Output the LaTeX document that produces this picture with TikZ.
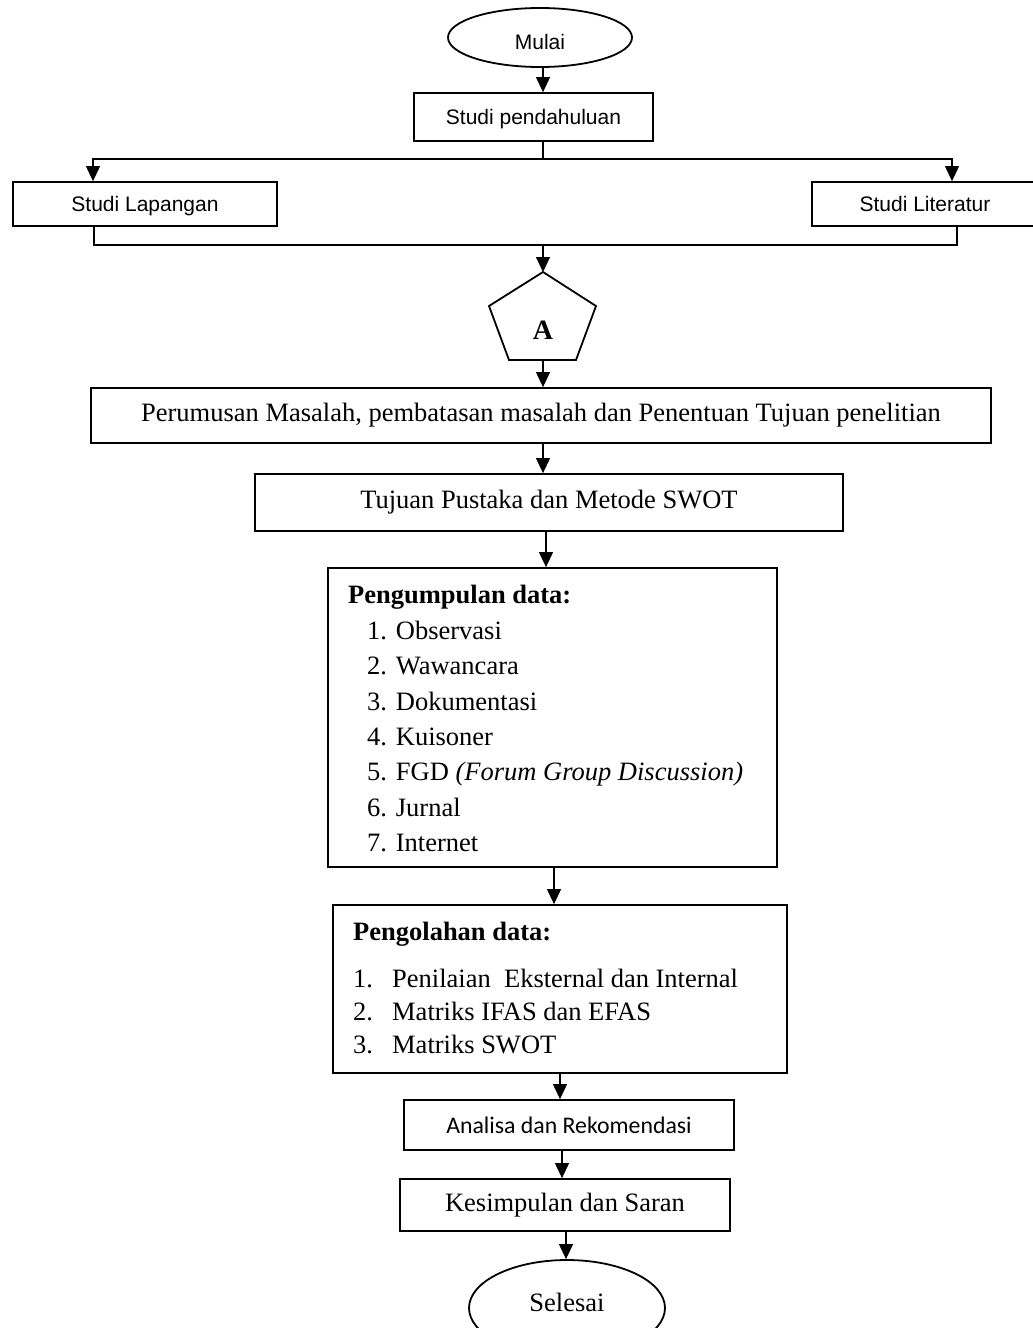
\documentclass[tikz,border=0pt]{standalone}
\usepackage{fontspec}
\setmainfont{Liberation Serif}
\newfontfamily\arialf{Liberation Sans}
\newfontfamily\calibrif{Carlito}
\usetikzlibrary{arrows.meta,calc,shapes.geometric}
\begin{document}
\begin{tikzpicture}[x=1pt,y=-1pt,
  box/.style={draw,line width=1.8pt,inner sep=0pt},
  oval/.style={draw,ellipse,line width=1.8pt,inner sep=0pt},
  conn/.style={line width=1.1pt},
  arr/.style={conn,-{Triangle[length=15pt,width=14pt]}},
  sansfont/.style={font=\arialf\fontsize{21}{25}\selectfont},
  seriffont/.style={font=\fontsize{26.5}{32}\selectfont},
  califont/.style={font=\calibrif\fontsize{23.8}{28}\selectfont},
  line/.style={anchor=base west,inner sep=0pt,font=\fontsize{26.5}{32}\selectfont}
]
\useasboundingbox (0,0) rectangle (1033,1328);

% start
\node[oval,minimum width=184pt,minimum height=59pt] (mulai) at (540,37.5) {};
\node[sansfont,inner sep=0pt] (mulaitext) at (540,42) {Mulai};
\node[box,sansfont,text depth=0pt,minimum width=239pt,minimum height=48pt] (sp) at (533.5,117) {Studi pendahuluan};
\draw[arr] ([xshift=3pt]mulai.south) -- ([xshift=9.5pt]sp.north);

\node[box,sansfont,text depth=0pt,minimum width=264pt,minimum height=44pt] (sl) at (145,204) {Studi Lapangan};
\node[box,sansfont,text depth=0pt,minimum width=226pt,minimum height=44pt] (slit) at (925,204) {Studi Literatur};

\coordinate (j1) at (543,159);
\coordinate (la) at (93,159);
\coordinate (ra) at (952,159);
\draw[conn] ([xshift=9.5pt]sp.south) -- (j1);
\draw[arr] (j1) -- (la) -- (la |- sl.north);
\draw[arr] (j1) -- (ra) -- (ra |- slit.north);

\coordinate (lb) at (94,245);
\coordinate (rb) at (957,245);
\coordinate (j2) at (543,245);
\draw[conn] (lb |- sl.south) -- (lb) -- (rb) -- (rb |- slit.south);

% pentagon
\coordinate (pt) at (543,272);
\coordinate (pr) at (596,306);
\coordinate (pbr) at (576,360);
\coordinate (pbl) at (509,360);
\coordinate (pl) at (489,306);
\coordinate (pb) at (543,360);
\draw[line width=1.8pt,line join=miter] (pt) -- (pr) -- (pbr) -- (pbl) -- (pl) -- cycle;
\node[font=\bfseries\fontsize{28}{32}\selectfont] (A) at (543,330) {A};
\draw[arr] (j2) -- (pt);

\node[box,seriffont,minimum width=900pt,minimum height=55pt] (pm) at (541,415.5)
  {Perumusan Masalah, pembatasan masalah dan Penentuan Tujuan penelitian};
\draw[arr] (pb) -- (pb |- pm.north);

\node[box,seriffont,minimum width=588pt,minimum height=57pt] (tp) at (549,502.5)
  {Tujuan Pustaka dan Metode SWOT};
\draw[arr] ([xshift=2pt]pm.south) -- ([xshift=-6pt]tp.north);

% pengumpulan data
\node[box,minimum width=449pt,minimum height=299pt] (pk) at (552.5,717.5) {};
\draw[arr] ([xshift=-3pt]tp.south) -- ([xshift=-6.5pt]pk.north);
\node[line] (pk0) at (348,603) {\bfseries Pengumpulan data:};
\node[line] (pk1) at (367,639) {1. Observasi};
\node[line] (pk2) at (367,674) {2. Wawancara};
\node[line] (pk3) at (367,710) {3. Dokumentasi};
\node[line] (pk4) at (367,745) {4. Kuisoner};
\node[line] (pk5) at (367,780) {5. FGD \textit{(Forum Group Discussion)}};
\node[line] (pk6) at (367,816) {6. Jurnal};
\node[line] (pk7) at (367,851) {7. Internet};

% pengolahan data
\node[box,minimum width=454pt,minimum height=168pt] (po) at (560,989) {};
\draw[arr] ([xshift=1.5pt]pk.south) -- ([xshift=-6pt]po.north);
\node[line] (po0) at (353,940) {\bfseries Pengolahan data:};
\node[line] (po1) at (353,987) {\makebox[39pt][l]{1.}Penilaian\ \ Eksternal dan Internal};
\node[line] (po2) at (353,1020) {\makebox[39pt][l]{2.}Matriks IFAS dan EFAS};
\node[line] (po3) at (353,1053) {\makebox[39pt][l]{3.}Matriks SWOT};

\node[box,califont,minimum width=330pt,minimum height=50pt] (an) at (569,1125) {Analisa dan Rekomendasi};
\draw[arr] (po.south) -- ([xshift=-9pt]an.north);

\node[box,seriffont,minimum width=330pt,minimum height=52pt] (ks) at (565,1205) {Kesimpulan dan Saran};
\draw[arr] ([xshift=-7pt]an.south) -- ([xshift=-3pt]ks.north);

\node[oval,seriffont,minimum width=196pt,minimum height=96pt] (se) at (567,1308) {};
\node[seriffont,inner sep=0pt] (setext) at (567,1302) {Selesai};
\draw[arr] ([xshift=1pt]ks.south) -- ([xshift=-1pt]se.north);
\end{tikzpicture}
\end{document}
